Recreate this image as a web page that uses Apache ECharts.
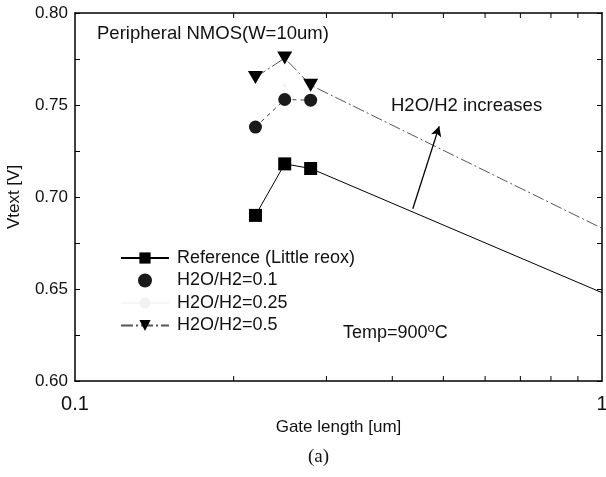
<!DOCTYPE html>
<html>
<head>
<meta charset="utf-8">
<script src="https://cdn.jsdelivr.net/npm/echarts@6/dist/echarts.min.js"></script>
<style>
  html, body { margin: 0; padding: 0; background: #fff; }
  #chart { width: 606px; height: 477px; }
</style>
</head>
<body>
<div id="chart"></div>
<script>
// gate lengths of the measured devices [um]
var gateLen = [0.22, 0.25, 0.28];
// Vtext [V] for each condition
var refV = [0.690, 0.718, 0.7155];
var h01V = [0.738, 0.753, 0.7526];
var h025V = [0.7608];
var h025Len = [0.25];
var h05V = [0.765, 0.7755, 0.7608];
// extrapolated lines out to 1 um
var fitEndLen = 1.0;
var refFitEnd = 0.648;
var h05FitEnd = 0.683;
// arrow "H2O/H2 increases" (start, tip)
var arrowFrom = [0.4375, 0.6936];
var arrowTo = [0.491, 0.7384];
// log minor ticks on x
var xMinorTicks = [0.2, 0.3, 0.4, 0.5, 0.6, 0.7, 0.8, 0.9];

var FONT = "'Liberation Sans', Arial, Helvetica, sans-serif";

function pairs(xs, ys) {
  return xs.map(function (x, i) { return [x, ys[i]]; });
}

var refData = pairs(gateLen, refV);
refData.push({ value: [fitEndLen, refFitEnd], symbol: 'none' });
var h05Data = pairs(gateLen, h05V);
h05Data.push({ value: [fitEndLen, h05FitEnd], symbol: 'none' });

var chart = echarts.init(document.getElementById('chart'));

var option = {
  animation: false,
  backgroundColor: '#fff',
  textStyle: { fontFamily: FONT },
  grid: { left: 75, right: 4, top: 13, bottom: 96, containLabel: false, outerBoundsMode: 'none' },
  legend: {
    orient: 'vertical',
    left: 115,
    top: 244,
    itemWidth: 48,
    itemHeight: 14,
    itemGap: 4.5,
    textStyle: { fontFamily: FONT, fontSize: 18, color: '#111', lineHeight: 18, padding: [0, 0, 0, 3] },
    data: [
      { name: 'Reference (Little reox)' },
      { name: 'H2O/H2=0.1', icon: 'circle' },
      { name: 'H2O/H2=0.25' },
      { name: 'H2O/H2=0.5' }
    ]
  },
  xAxis: [
    {
      type: 'log',
      logBase: 10,
      min: 0.1,
      max: 1,
      name: 'Gate length [um]',
      nameLocation: 'middle',
      nameGap: 35,
      nameTextStyle: { fontFamily: FONT, fontSize: 17, color: '#111' },
      axisLine: { lineStyle: { color: '#000', width: 1.5 } },
      axisTick: { show: false },
      splitLine: { show: false },
      axisLabel: {
        fontFamily: FONT, fontSize: 20, color: '#111', margin: 13,
        formatter: function (v) { return v >= 1 ? '1' : String(+v.toFixed(2)); }
      }
    },
    {
      type: 'log',
      logBase: 10,
      min: 0.1,
      max: 1,
      position: 'top',
      axisLine: { lineStyle: { color: '#000', width: 1.5 } },
      axisTick: { show: false },
      axisLabel: { show: false },
      splitLine: { show: false }
    }
  ],
  yAxis: [
    {
      type: 'value',
      min: 0.6,
      max: 0.8,
      interval: 0.05,
      name: 'Vtext [V]',
      nameLocation: 'middle',
      nameGap: 52,
      nameTextStyle: { fontFamily: FONT, fontSize: 17, color: '#111' },
      axisLine: { show: true, lineStyle: { color: '#000', width: 1.5 } },
      axisTick: { show: true, inside: true, length: 5, lineStyle: { color: '#000' } },
      minorTick: { show: true, splitNumber: 2, length: 5, lineStyle: { color: '#000' } },
      splitLine: { show: false },
      axisLabel: {
        fontFamily: FONT, fontSize: 17, color: '#111', margin: 7,
        formatter: function (v) { return v.toFixed(2); }
      }
    },
    {
      type: 'value',
      min: 0.6,
      max: 0.8,
      interval: 0.05,
      position: 'right',
      axisLine: { show: true, lineStyle: { color: '#000', width: 1.5 } },
      axisTick: { show: true, inside: true, length: 5, lineStyle: { color: '#000' } },
      minorTick: { show: true, splitNumber: 2, length: 5, lineStyle: { color: '#000' } },
      splitLine: { show: false },
      axisLabel: { show: false }
    }
  ],
  graphic: [
    { type: 'text', left: 97, top: 24, style: { text: 'Peripheral NMOS(W=10um)', font: '18.5px ' + FONT, fill: '#111' } },
    { type: 'text', left: 391, top: 96, style: { text: 'H2O/H2 increases', font: '18.5px ' + FONT, fill: '#111' } },
    {
      type: 'text', left: 343, top: 322,
      style: {
        text: '{a|Temp=900}{b|o}{a|C}',
        rich: {
          a: { fontFamily: FONT, fontSize: 18, fill: '#111', color: '#111', lineHeight: 22 },
          b: { fontFamily: FONT, fontSize: 13, fill: '#111', color: '#111', lineHeight: 22, verticalAlign: 'top', padding: [0, 0, 8, 0] }
        }
      }
    },
    { type: 'text', left: 308, top: 448, style: { text: '(a)', font: '19px "Liberation Serif", "Times New Roman", serif', fill: '#111' } }
  ],
  series: [
    {
      name: 'Reference (Little reox)',
      type: 'line',
      data: refData,
      symbol: 'rect',
      symbolSize: 13,
      itemStyle: { color: '#000' },
      lineStyle: { color: '#000', width: 1 },
      z: 5,
      markLine: {
        silent: true,
        symbol: ['none', 'arrow'],
        symbolSize: [8, 10],
        label: { show: false },
        lineStyle: { color: '#000', width: 1.3, type: 'solid' },
        data: [[{ coord: arrowFrom }, { coord: arrowTo }]]
      }
    },
    {
      name: 'H2O/H2=0.1',
      type: 'line',
      data: pairs(gateLen, h01V),
      symbol: 'circle',
      symbolSize: 13,
      itemStyle: { color: '#1a1a1a' },
      lineStyle: { color: '#444', width: 1, type: [4, 4] },
      z: 4
    },
    {
      name: 'H2O/H2=0.25',
      type: 'line',
      data: pairs(h025Len, h025V),
      symbol: 'circle',
      symbolSize: 4,
      itemStyle: { color: '#f2f2f2' },
      lineStyle: { color: '#f6f6f6', width: 1 },
      z: 3
    },
    {
      name: 'H2O/H2=0.5',
      type: 'line',
      data: h05Data,
      symbol: 'path://M0,0 L10,0 L5,9 Z',
      symbolSize: [15, 13],
      itemStyle: { color: '#000' },
      lineStyle: { color: '#555', width: 1, type: [12, 3, 2, 3] },
      z: 4
    },
    {
      name: 'xMinor',
      type: 'custom',
      silent: true,
      data: xMinorTicks.map(function (v) { return [v, 0.6]; }),
      renderItem: function (params, api) {
        var p = api.coord([api.value(0), 0.6]);
        var q = api.coord([api.value(0), 0.8]);
        return {
          type: 'group',
          children: [
            { type: 'line', shape: { x1: p[0], y1: p[1], x2: p[0], y2: p[1] - 5 }, style: { stroke: '#000', lineWidth: 1 } },
            { type: 'line', shape: { x1: q[0], y1: q[1], x2: q[0], y2: q[1] + 5 }, style: { stroke: '#000', lineWidth: 1 } }
          ]
        };
      },
      z: 6
    }
  ]
};

chart.setOption(option);
</script>
</body>
</html>
